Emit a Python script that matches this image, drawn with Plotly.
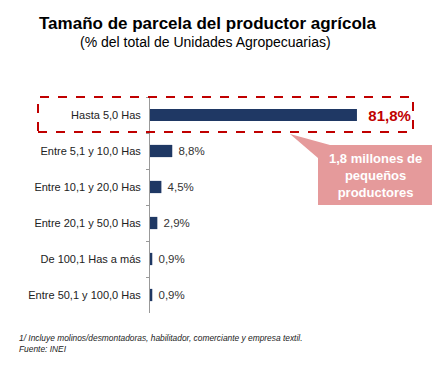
import plotly.graph_objects as go

categories = ["Hasta 5,0 Has", "Entre 5,1 y 10,0 Has", "Entre 10,1 y 20,0 Has",
              "Entre 20,1 y 50,0 Has", "De 100,1 Has a más", "Entre 50,1 y 100,0 Has"]
values = [81.8, 8.8, 4.5, 2.9, 0.9, 0.9]
value_labels = ["\u00a0\u00a0<b>81,8%</b>", "\u00a08,8%", "\u00a04,5%", "\u00a02,9%", "\u00a00,9%", "\u00a00,9%"]
label_colors = ["#c00000", "#333333", "#333333", "#333333", "#333333", "#333333"]
label_sizes = [15, 11.5, 11.5, 11.5, 11.5, 11.5]

W, H = 445, 387
L, R, T, B = 150, 15, 97, 74

fig = go.Figure()
fig.add_trace(go.Bar(
    x=values, y=categories, orientation="h",
    marker=dict(color="#1f3864", line=dict(width=0)),
    width=0.34,
    text=value_labels, textposition="outside", cliponaxis=False, constraintext="none",
    textfont=dict(color=label_colors, size=label_sizes, family="Liberation Sans, Arial"),
    hoverinfo="skip",
))

pw = W - L - R
ph = H - T - B
def px(x): return (x - L) / pw
def py(y): return (H - B - y) / ph

# dashed highlight box
fig.add_shape(type="rect", xref="paper", yref="paper",
              x0=px(38), x1=px(413), y0=py(132), y1=py(97),
              line=dict(color="#c00000", width=2, dash="dash"), fillcolor="rgba(0,0,0,0)")

# callout with pointer
path = "M " + " L ".join(f"{px(x):.4f},{py(y):.4f}" for x, y in
                        [(330, 145), (290, 134), (318, 158), (318, 205), (432, 205), (432, 145)]) + " Z"
fig.add_shape(type="path", xref="paper", yref="paper", path=path,
              fillcolor="#e59a9b", line=dict(width=0), layer="above")
fig.add_annotation(xref="paper", yref="paper", x=px(375), y=py(175),
                   xanchor="center", yanchor="middle",
                   text="<b>1,8 millones de<br>pequeños<br>productores</b>",
                   showarrow=False, font=dict(color="white", size=13, family="Liberation Sans, Arial"),
                   align="center")

# title
fig.add_annotation(xref="paper", yref="paper", x=px(207), y=py(23),
                   xanchor="center", yanchor="middle",
                   text="<b>Tamaño de parcela del productor agrícola</b>", showarrow=False,
                   font=dict(size=17, color="#000000", family="Liberation Sans, Arial"))
fig.add_annotation(xref="paper", yref="paper", x=px(205), y=py(42),
                   xanchor="center", yanchor="middle",
                   text="(% del total de Unidades Agropecuarias)", showarrow=False,
                   font=dict(size=14, color="#000000", family="Liberation Sans, Arial"))

# footer
fig.add_annotation(xref="paper", yref="paper", x=px(17), y=py(343),
                   xanchor="left", yanchor="middle",
                   text="<i>1/ Incluye molinos/desmontadoras, habilitador, comerciante y empresa textil.<br>Fuente: INEI</i>",
                   showarrow=False, align="left",
                   font=dict(size=8.4, color="#222222", family="Liberation Sans, Arial"))

fig.update_layout(
    width=W, height=H, margin=dict(l=L, r=R, t=T, b=B, autoexpand=False),
    paper_bgcolor="white", plot_bgcolor="white", showlegend=False,
    font=dict(family="Liberation Sans, Arial", size=11, color="#222222"),
    xaxis=dict(range=[0, pw / 2.53], visible=False, fixedrange=True, automargin=False),
    yaxis=dict(autorange="reversed", showline=True, linecolor="#999999", linewidth=1,
               ticks="outside", tickson="boundaries", ticklen=3, tickcolor="#999999",
               showgrid=False, ticklabelstandoff=6, automargin=False,
               tickfont=dict(size=11, color="#222222")),
)

fig.write_html("out.html", config={"displayModeBar": False},
               post_script="document.body.style.margin='0';")
